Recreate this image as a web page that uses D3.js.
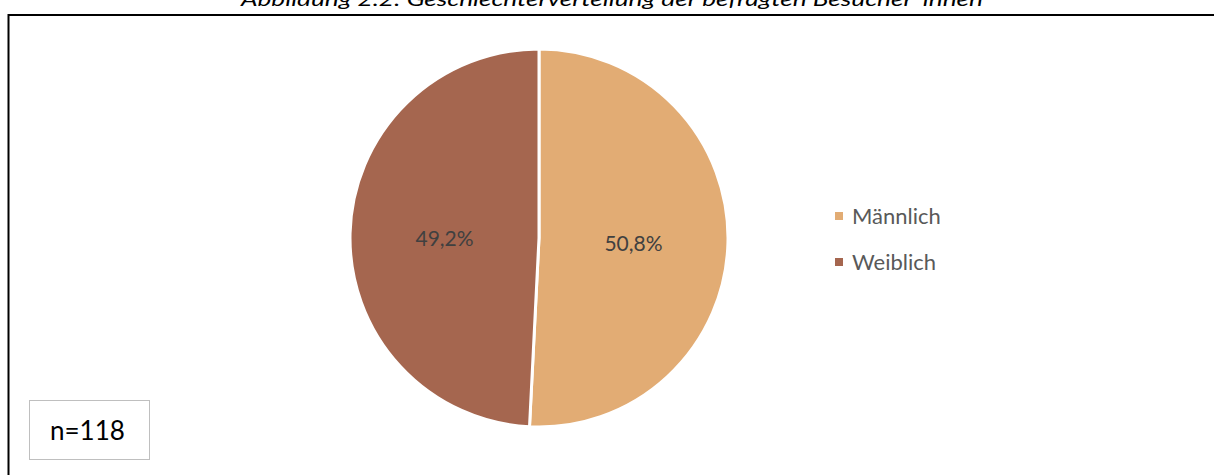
<!DOCTYPE html>
<html><head><meta charset="utf-8">
<script src="https://cdn.jsdelivr.net/npm/d3@7"></script>
<style>html,body{margin:0;padding:0;background:#fff;overflow:hidden}</style>
</head><body>
<svg id="c" width="1214" height="475"></svg>
<script>
const categories = ["Männlich", "Weiblich"];
const values = [50.8, 49.2];
const labels = ["50,8%", "49,2%"];
const colors = ["#E2AC74", "#A5664F"];
const title = "Abbildung 2.2: Geschlechterverteilung der befragten Besucher*innen";
const note = "n=118";

const svg = d3.select("#c");
const font = "Lato, 'Open Sans', sans-serif";

// title (clipped at top, as in the reference)
svg.append("text").attr("x", 612).attr("y", 6).attr("text-anchor", "middle")
  .attr("font-family", font).attr("font-style", "italic").attr("font-size", 20)
  .attr("textLength", 742).attr("lengthAdjust", "spacingAndGlyphs")
  .attr("fill", "#000").text(title);

// frame
svg.append("path").attr("d", "M8.5,475 V15 H1214").attr("fill", "none")
  .attr("stroke", "#000").attr("stroke-width", 2);

const cx = 539, cy = 238, r = 189;
const pie = d3.pie().sort(null).value(d => d)(values);
const arc = d3.arc().innerRadius(0).outerRadius(r);
const g = svg.append("g").attr("transform", `translate(${cx},${cy})`);
g.selectAll("path").data(pie).join("path")
  .attr("d", arc).attr("fill", (d, i) => colors[i])
  .attr("stroke", "#fff").attr("stroke-width", 3).attr("stroke-linejoin", "round");

const larc = d3.arc().innerRadius(r * 0.5).outerRadius(r * 0.5);
g.selectAll("text").data(pie).join("text")
  .attr("transform", d => { const c = larc.centroid(d); return `translate(${c[0]},${c[1] + 3})`; })
  .attr("text-anchor", "middle").attr("dy", "0.35em")
  .attr("font-family", font).attr("font-size", 21).attr("fill", "#404040")
  .text((d, i) => labels[i]);

// legend
const leg = svg.append("g");
categories.forEach((c, i) => {
  const y = 216 + i * 46;
  leg.append("rect").attr("x", 835).attr("y", y - 4).attr("width", 8).attr("height", 8).attr("fill", colors[i]);
  leg.append("text").attr("x", 852).attr("y", y).attr("dy", "0.35em")
    .attr("font-family", font).attr("font-size", 22).attr("fill", "#595959").text(c);
});

// n box
svg.append("rect").attr("x", 29.5).attr("y", 400.5).attr("width", 120).attr("height", 59)
  .attr("fill", "#fff").attr("stroke", "#BFBFBF").attr("stroke-width", 1);
svg.append("text").attr("x", 50).attr("y", 431).attr("dy", "0.35em")
  .attr("font-family", font).attr("font-size", 26).attr("fill", "#000").text(note);
</script>
</body></html>
